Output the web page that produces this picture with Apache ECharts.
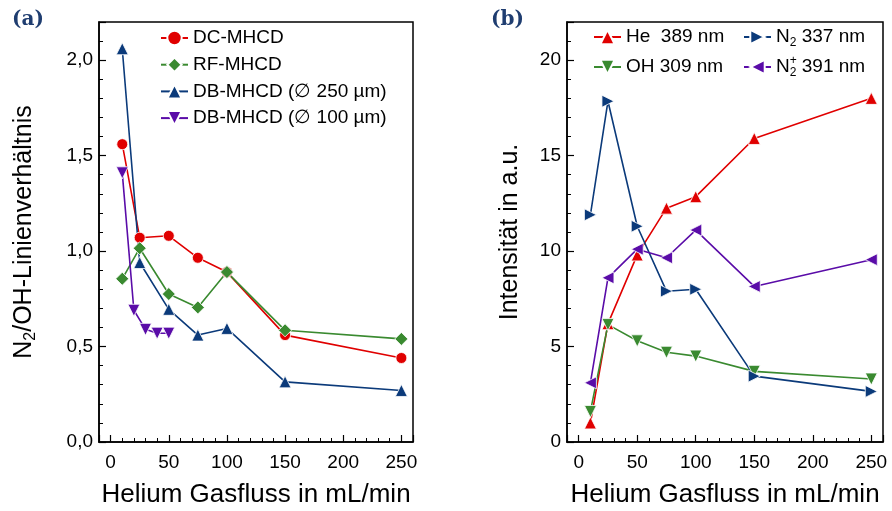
<!DOCTYPE html>
<html>
<head>
<meta charset="utf-8">
<script src="https://cdn.jsdelivr.net/npm/echarts@6/dist/echarts.min.js"></script>
<style>
  html, body { margin: 0; padding: 0; background: #fff; }
  #chart { width: 892px; height: 511px; }
</style>
</head>
<body>
<div id="chart"></div>
<script>
// Daten (a): N2/OH-Verhältnis
var flowA = [10, 25, 50, 75, 100, 150, 250];
var flowA100 = [10, 20, 30, 40, 50];
var dcMhcd = [1.56, 1.07, 1.08, 0.965, 0.89, 0.56, 0.44];
var rfMhcd = [0.855, 1.015, 0.775, 0.705, 0.89, 0.585, 0.54];
var db250 = [2.06, 0.94, 0.695, 0.56, 0.595, 0.315, 0.27];
var db100 = [1.41, 0.69, 0.59, 0.57, 0.57];

// Daten (b): Intensitäten
var flowB = [10, 25, 50, 75, 100, 150, 250];
var he389 = [1.0, 6.2, 9.8, 12.25, 12.85, 15.9, 18.0];
var oh309 = [1.6, 6.15, 5.3, 4.7, 4.5, 3.7, 3.3];
var n2337 = [11.9, 17.85, 11.3, 7.9, 8.0, 3.45, 2.65];
var n2p391 = [3.1, 8.6, 10.1, 9.65, 11.1, 8.15, 9.55];

var RED = '#e00000', GREEN = '#3a8a30', BLUE = '#0b3a7a', PURPLE = '#5a0ca8';
var FONT = 'Liberation Sans, Arial, sans-serif';

function pairs(xs, ys) {
    return xs.map(function (x, i) { return [x, ys[i]]; });
}

var subRich = {
    t: { fontSize: 19, lineHeight: 24, fontFamily: FONT, color: '#000' },
    sub: { fontSize: 12, lineHeight: 10, verticalAlign: 'bottom', fontFamily: FONT, color: '#000' },
    sup: { fontSize: 12, lineHeight: 10, verticalAlign: 'top', width: 0.1, fontFamily: FONT, color: '#000' }
};

function xAxisFor(i) {
    return {
        type: 'value', gridIndex: i, min: -10, max: 260, splitNumber: 5,
        axisLine: { show: true, onZero: false, lineStyle: { color: '#000', width: 1.5 } },
        axisTick: { inside: true, length: 7, lineStyle: { color: '#000', width: 1.2 } },
        minorTick: { show: true, splitNumber: 5, length: 4, lineStyle: { color: '#000', width: 1 } },
        splitLine: { show: false },
        axisLabel: {
            fontSize: 19, color: '#000', fontFamily: FONT, margin: 11,
            formatter: function (v) { return (v >= 0 && v % 50 === 0) ? String(v) : ''; }
        },
        name: 'Helium Gasfluss in mL/min', nameLocation: 'middle', nameGap: 40,
        nameTextStyle: { fontSize: 26, color: '#000', fontFamily: FONT }
    };
}

var myChart = echarts.init(document.getElementById('chart'));

var option = {
    animation: false,
    backgroundColor: '#fff',
    title: [
        { text: '(a)', left: 7, top: 5, textStyle: { fontFamily: 'DejaVu Serif, serif', fontWeight: 'bold', fontSize: 20, color: '#1f3d70' } },
        { text: '(b)', left: 486, top: 5, textStyle: { fontFamily: 'DejaVu Serif, serif', fontWeight: 'bold', fontSize: 20, color: '#1f3d70' } }
    ],
    grid: [
        { left: 99, top: 22, width: 314, height: 420, show: true, borderColor: '#000', borderWidth: 1.5, outerBoundsMode: 'none', containLabel: false },
        { left: 567, top: 22, width: 316, height: 420, show: true, borderColor: '#000', borderWidth: 1.5, outerBoundsMode: 'none', containLabel: false }
    ],
    xAxis: [xAxisFor(0), xAxisFor(1)],
    yAxis: [
        {
            type: 'value', gridIndex: 0, min: 0, max: 2.2, interval: 0.5,
            axisLine: { show: true, onZero: false, lineStyle: { color: '#000', width: 1.5 } },
            axisTick: { inside: true, length: 7, lineStyle: { color: '#000', width: 1.2 } },
            minorTick: { show: true, splitNumber: 5, length: 4, lineStyle: { color: '#000', width: 1 } },
            splitLine: { show: false },
            axisLabel: {
                fontSize: 19, color: '#000', fontFamily: FONT, margin: 6,
                formatter: function (v) {
                    return (Math.abs(v * 2 - Math.round(v * 2)) < 1e-6 && v <= 2.01) ? v.toFixed(1).replace('.', ',') : '';
                }
            },
            name: '{t|N}{sub|2}{t|/OH-Linienverhältnis}', nameLocation: 'middle', nameGap: 60, nameRotate: 90,
            nameTextStyle: {
                fontSize: 25, color: '#000', fontFamily: FONT,
                rich: {
                    t: { fontSize: 25, lineHeight: 30, fontFamily: FONT, color: '#000' },
                    sub: { fontSize: 16, lineHeight: 12, verticalAlign: 'bottom', fontFamily: FONT, color: '#000' }
                }
            }
        },
        {
            type: 'value', gridIndex: 1, min: 0, max: 22, interval: 5,
            axisLine: { show: true, onZero: false, lineStyle: { color: '#000', width: 1.5 } },
            axisTick: { inside: true, length: 7, lineStyle: { color: '#000', width: 1.2 } },
            minorTick: { show: true, splitNumber: 5, length: 4, lineStyle: { color: '#000', width: 1 } },
            splitLine: { show: false },
            axisLabel: {
                fontSize: 19, color: '#000', fontFamily: FONT, margin: 6,
                formatter: function (v) { return (v % 5 === 0 && v <= 20) ? String(v) : ''; }
            },
            name: 'Intensität in a.u.', nameLocation: 'middle', nameGap: 44, nameRotate: 90,
            nameTextStyle: { fontSize: 25, color: '#000', fontFamily: FONT }
        }
    ],
    legend: [
        {
            data: ['DC-MHCD', 'RF-MHCD', 'DB-MHCD (∅ 250 µm)', 'DB-MHCD (∅ 100 µm)'],
            orient: 'vertical', left: 160, top: 28, itemWidth: 27, itemHeight: 18, itemGap: 6.7, padding: 0,
            textStyle: { fontSize: 19, lineHeight: 20, fontFamily: FONT, color: '#000' }
        },
        {
            data: ['He  389 nm', 'OH 309 nm'],
            orient: 'vertical', left: 593, top: 25, itemWidth: 27, itemHeight: 18, itemGap: 6, padding: 0,
            textStyle: { fontSize: 19, lineHeight: 24, fontFamily: FONT, color: '#000' }
        },
        {
            data: ['N2 337 nm', 'N2+ 391 nm'],
            orient: 'vertical', left: 743, top: 25, itemWidth: 27, itemHeight: 18, itemGap: 6, padding: 0,
            formatter: function (name) {
                if (name === 'N2 337 nm') return '{t|N}{sub|2}{t| 337 nm}';
                return '{t|N}{sup|+}{sub|2}{t| 391 nm}';
            },
            textStyle: { fontSize: 19, lineHeight: 24, fontFamily: FONT, color: '#000', rich: subRich }
        }
    ],
    series: [
        { name: 'DC-MHCD', type: 'line', xAxisIndex: 0, yAxisIndex: 0, data: pairs(flowA, dcMhcd), symbol: 'circle', symbolSize: 11 },
        { name: 'RF-MHCD', type: 'line', xAxisIndex: 0, yAxisIndex: 0, data: pairs(flowA, rfMhcd), symbol: 'diamond', symbolSize: 13 },
        { name: 'DB-MHCD (∅ 250 µm)', type: 'line', xAxisIndex: 0, yAxisIndex: 0, data: pairs(flowA, db250), symbol: 'triangle', symbolSize: 12 },
        { name: 'DB-MHCD (∅ 100 µm)', type: 'line', xAxisIndex: 0, yAxisIndex: 0, data: pairs(flowA100, db100), symbol: 'triangle', symbolRotate: 180, symbolSize: 12 },
        { name: 'He  389 nm', type: 'line', xAxisIndex: 1, yAxisIndex: 1, data: pairs(flowB, he389), symbol: 'triangle', symbolSize: 12 },
        { name: 'OH 309 nm', type: 'line', xAxisIndex: 1, yAxisIndex: 1, data: pairs(flowB, oh309), symbol: 'triangle', symbolRotate: 180, symbolSize: 12 },
        { name: 'N2 337 nm', type: 'line', xAxisIndex: 1, yAxisIndex: 1, data: pairs(flowB, n2337), symbol: 'triangle', symbolRotate: -90, symbolSize: 12 },
        { name: 'N2+ 391 nm', type: 'line', xAxisIndex: 1, yAxisIndex: 1, data: pairs(flowB, n2p391), symbol: 'triangle', symbolRotate: 90, symbolSize: 12 }
    ]
};

// Farben und Linienstil je Serie
var colors = [RED, GREEN, BLUE, PURPLE, RED, GREEN, BLUE, PURPLE];
option.series.forEach(function (s, i) {
    s.color = colors[i];
    s.showAllSymbol = true;
    s.lineStyle = { color: colors[i], width: 1.6 };
    s.itemStyle = { color: colors[i], borderColor: '#fff', borderWidth: 0.8 };
    s.emphasis = { disabled: true };
});

myChart.setOption(option);
</script>
</body>
</html>
